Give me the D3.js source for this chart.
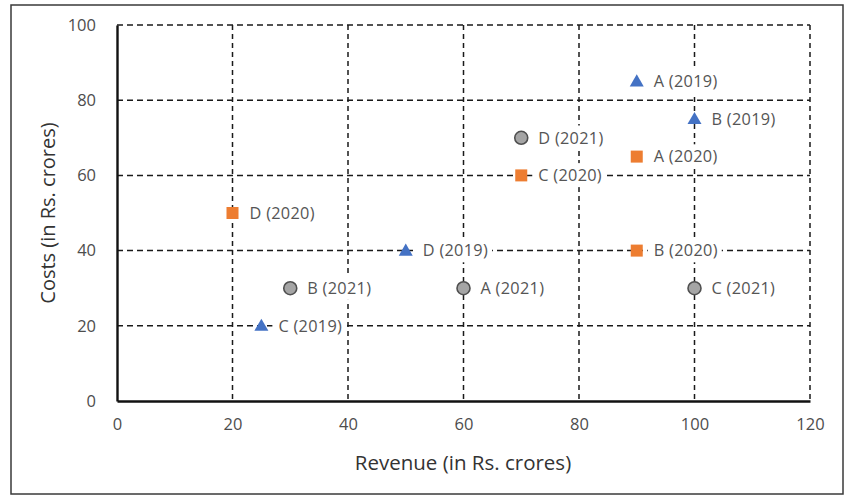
<!DOCTYPE html>
<html>
<head>
<meta charset="utf-8">
<script src="https://cdn.jsdelivr.net/npm/d3@7"></script>
<style>
  body { margin: 0; background: #fff; }
  text { font-family: "Open Sans", sans-serif; }
</style>
</head>
<body>
<svg id="chart" width="857" height="501"></svg>
<script>
// data
const companies = ["A", "B", "C", "D"];
const revenue2019 = [90, 100, 25, 50];
const costs2019 = [85, 75, 20, 40];
const revenue2020 = [90, 90, 70, 20];
const costs2020 = [65, 40, 60, 50];
const revenue2021 = [60, 30, 100, 70];
const costs2021 = [30, 30, 30, 70];
const xTicks = [0, 20, 40, 60, 80, 100, 120];
const yTicks = [0, 20, 40, 60, 80, 100];

const svg = d3.select("#chart");

// outer frame
svg.append("rect")
  .attr("x", 11).attr("y", 5)
  .attr("width", 832).attr("height", 489)
  .attr("fill", "#fff")
  .attr("stroke", "#3a3a3a")
  .attr("stroke-width", 1.5);

let margin = {left: 117, top: 25, right: 47, bottom: 100};
let chartWidth = 857 - margin.left - margin.right;
let chartHeight = 501 - margin.top - margin.bottom;

let chartGroup = svg.append("g")
  .attr("transform", `translate(${margin.left}, ${margin.top})`);

let xScale = d3.scaleLinear().domain([0, 120]).range([0, chartWidth]);
let yScale = d3.scaleLinear().domain([0, 100]).range([chartHeight, 0]);

// dashed gridlines
chartGroup.append("g")
  .selectAll("line")
  .data(xTicks.slice(1))
  .join("line")
  .attr("x1", d => xScale(d)).attr("x2", d => xScale(d))
  .attr("y1", 0).attr("y2", chartHeight)
  .attr("stroke", "#1a1a1a")
  .attr("stroke-width", 1.5)
  .attr("stroke-dasharray", "5,4");

chartGroup.append("g")
  .selectAll("line")
  .data(yTicks.slice(1))
  .join("line")
  .attr("x1", 0).attr("x2", chartWidth)
  .attr("y1", d => yScale(d)).attr("y2", d => yScale(d))
  .attr("stroke", "#1a1a1a")
  .attr("stroke-width", 1.5)
  .attr("stroke-dasharray", "6,4");

// axes
let bottomAxis = d3.axisBottom(xScale).tickValues(xTicks).tickSize(0).tickPadding(17);
let leftAxis = d3.axisLeft(yScale).tickValues(yTicks).tickSize(0).tickPadding(21);

let xAxisG = chartGroup.append("g")
  .attr("transform", `translate(0, ${chartHeight})`)
  .call(bottomAxis);
let yAxisG = chartGroup.append("g").call(leftAxis);

[xAxisG, yAxisG].forEach(g => {
  g.select(".domain").attr("stroke", "#111").attr("stroke-width", 2.4);
  g.selectAll("text")
    .attr("fill", "#4d4d4d")
    .style("font-size", "16.5px");
});

// axis titles
svg.append("text")
  .attr("x", 463)
  .attr("y", 470)
  .attr("text-anchor", "middle")
  .attr("fill", "#333")
  .style("font-size", "20.5px")
  .text("Revenue (in Rs. crores)");

svg.append("text")
  .attr("transform", "translate(55, 213) rotate(-90)")
  .attr("text-anchor", "middle")
  .attr("fill", "#333")
  .style("font-size", "20px")
  .text("Costs (in Rs. crores)");

// build points
let points = [];
companies.forEach((c, i) => {
  points.push({name: c, year: 2019, x: revenue2019[i], y: costs2019[i]});
  points.push({name: c, year: 2020, x: revenue2020[i], y: costs2020[i]});
  points.push({name: c, year: 2021, x: revenue2021[i], y: costs2021[i]});
});

// labels with white boxes behind
let labels = chartGroup.append("g")
  .selectAll("g")
  .data(points)
  .join("g")
  .attr("transform", d => `translate(${xScale(d.x) + 17}, ${yScale(d.y)})`);

labels.append("text")
  .attr("dy", "0.35em")
  .attr("fill", "#555")
  .style("font-size", "16.3px")
  .style("letter-spacing", "0.3px")
  .text(d => `${d.name} (${d.year})`);

labels.each(function() {
  let g = d3.select(this);
  let bb = g.select("text").node().getBBox();
  g.insert("rect", "text")
    .attr("x", bb.x - 6).attr("y", bb.y - 1)
    .attr("width", bb.width + 10).attr("height", bb.height + 2)
    .attr("fill", "#fff");
});

// markers
let markerGroup = chartGroup.append("g");
markerGroup.selectAll(".tri")
  .data(points.filter(d => d.year == 2019))
  .join("path")
  .attr("d", d3.symbol().type(d3.symbolTriangle).size(85))
  .attr("transform", d => `translate(${xScale(d.x)}, ${yScale(d.y) + 1})`)
  .attr("fill", "#4472C4");

markerGroup.selectAll(".sq")
  .data(points.filter(d => d.year == 2020))
  .join("rect")
  .attr("x", d => xScale(d.x) - 6)
  .attr("y", d => yScale(d.y) - 6)
  .attr("width", 12).attr("height", 12)
  .attr("fill", "#ED7D31");

markerGroup.selectAll(".circ")
  .data(points.filter(d => d.year == 2021))
  .join("circle")
  .attr("cx", d => xScale(d.x))
  .attr("cy", d => yScale(d.y))
  .attr("r", 6.5)
  .attr("fill", "#A5A5A5")
  .attr("stroke", "#505050")
  .attr("stroke-width", 1.6);
</script>
</body>
</html>
